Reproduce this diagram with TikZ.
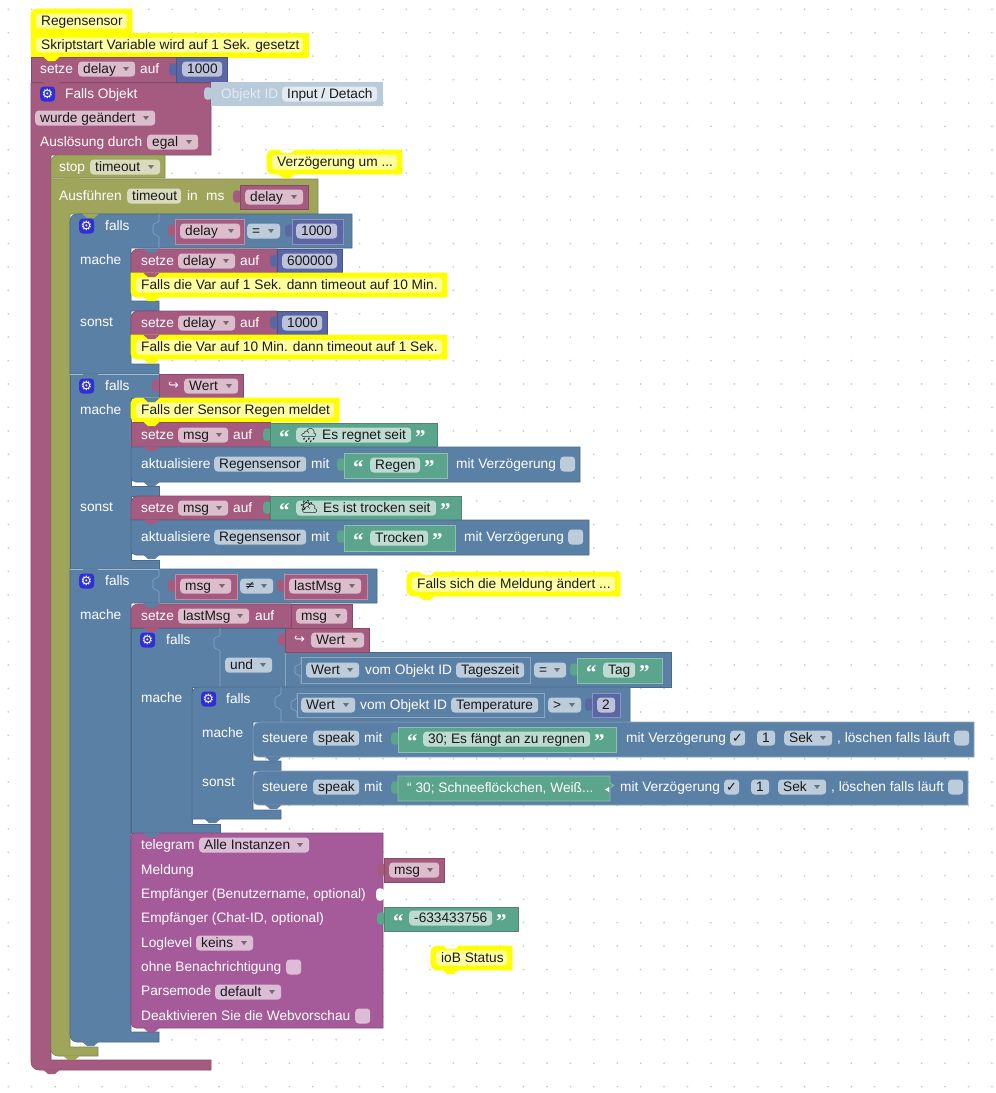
\documentclass[tikz,border=0pt]{standalone}
\usepackage{fontspec}
\setmainfont{Liberation Sans}
\newfontfamily\qfont{Liberation Serif}
\newfontfamily\dvfont{DejaVu Sans}
\newfontfamily\emofont{Noto Emoji}
\definecolor{mar}{HTML}{A55B80}
\definecolor{marF}{HTML}{DBBDCC}
\definecolor{oli}{HTML}{9FA65C}
\definecolor{oliF}{HTML}{D8DBBD}
\definecolor{blu}{HTML}{5B80A5}
\definecolor{bluF}{HTML}{BDCCDB}
\definecolor{mat}{HTML}{5B67A5}
\definecolor{matF}{HTML}{BDC2DB}
\definecolor{grn}{HTML}{5BA58C}
\definecolor{grnF}{HTML}{BDDBD1}
\definecolor{pur}{HTML}{A55B99}
\definecolor{purF}{HTML}{DBBDD6}
\definecolor{yel}{HTML}{FFFF00}
\definecolor{yelF}{HTML}{FFFFA0}
\definecolor{sha}{HTML}{B9CADB}
\definecolor{shaF}{HTML}{E3EAF1}
\definecolor{gearc}{HTML}{2F2FD6}
\tikzset{
  x=1bp, y=-1bp,
  blk/.style={fill=#1, draw=#1!82!black, line width=.6bp},
  inr/.style={fill=#1, draw=#1!70!white, line width=.6bp},
  cmt/.style={fill=yel, draw=yel, line width=.6bp},
  lbl/.style={anchor=west, inner sep=0pt, text=white, font=\fontsize{13.75}{15}\selectfont, text height=11bp, text depth=1.5bp},
  ftxt/.style={lbl, text=black!90},
  fld/.style={anchor=west, inner sep=0pt, rounded corners=3.5bp, minimum height=15bp},
  qt/.style={anchor=west, inner sep=0pt, text=white, font=\qfont\bfseries\fontsize{21}{21}\selectfont},
  hole/.style={draw=white!30!blu, line width=.6bp, rounded corners=1.5bp},
}
\newcommand{\fl}[6]{\node[fld, fill=#5, minimum width={(#3-#2)*1bp}] (#1) at (#2,#4) {};
  \node[ftxt] (#1t) at (#2+5,#4) {#6};}
\newcommand{\dd}[6]{\fl{#1}{#2}{#3}{#4}{#5}{#6}
  \fill[#5!55!black] (#3-12,#4-2) -- (#3-6,#4-2) -- (#3-9,#4+2) -- cycle;}
\newcommand{\cb}[4]{\node[fld, fill=#4, minimum width=15bp] (#1) at (#2,#3) {};}
\newcommand{\tb}[3]{\fill[#3, rounded corners=1.5bp] (#1+1,#2+6) -- (#1-5,#2+5) -- (#1-7,#2+8) -- (#1-7,#2+15) -- (#1-5,#2+18) -- (#1+1,#2+17) -- cycle;}
\newcommand{\nb}[3]{\fill[#3] (#1+12,#2-.5) -- (#1+17,#2+4) -- (#1+24,#2+4) -- (#1+29,#2-.5) -- cycle;}
\newcommand{\gear}[3]{\node[fld, fill=gearc, minimum width=15bp, minimum height=15bp] (#1) at (#2,#3) {};
  \node[text=white, inner sep=0pt, font=\dvfont\fontsize{13}{13}\selectfont] (#1t) at (#2+7.5,#3) {⚙};}
\begin{document}
\begin{tikzpicture}
\useasboundingbox (0,0) rectangle (996,1093);
\fill[white] (0,0) rectangle (996,1093);
\foreach \i in {0,...,42}
\foreach \j in {0,...,46}
\fill[black!20] (8.3+\i*23.42,9.3+\j*23.42) circle (1);

\draw[cmt] (31,33) [rounded corners=6bp] -- (31,9) [sharp corners] -- (132,9) -- (132,33) -- cycle;
\draw[cmt] (31,33) rectangle (308,57);
\fl{fRegen}{36}{127}{21}{yelF}{Regensensor}
\fl{fStart}{36}{303}{45}{yelF}{Skriptstart Variable wird auf 1 Sek. gesetzt}

\draw[blk=mar] (31,57) rectangle (176,82);
\nb{31}{57}{yel}
\tb{176}{58}{mat}
\draw[blk=mat] (176,57) rectangle (227,82);
\node[lbl] (setzeA) at (40,69) {setze};
\dd{fDelayA}{78}{135}{69}{marF}{delay}
\node[lbl] (aufA) at (140,69) {auf};
\fl{fMsA}{182}{222}{69}{matF}{1000}

\draw[blk=mar] (31,83) -- (211,83) -- (211,155) -- (51,155) -- (51,1060) -- (211,1060) -- (211,1070) [rounded corners=8bp] -- (31,1070) [sharp corners] -- (31,83) -- cycle;
\nb{31}{1070}{mar}
\nb{31}{82.5}{mar}
\tb{211}{82}{sha}
\fill[sha] (211,82) rectangle (383,106);
\gear{gObj}{40}{94}
\node[lbl] (fallsObj) at (65,94) {Falls Objekt};
\node[lbl, text=shaF] (objId) at (221,94) {Objekt ID};
\fl{fInput}{282}{377}{94}{shaF}{Input / Detach}
\dd{fGeaen}{35}{155}{118}{marF}{wurde geändert}
\node[lbl] (ausl) at (40,142) {Auslösung durch};
\dd{fEgal}{147}{198}{142}{marF}{egal}

\draw[blk=oli] (51,178) [rounded corners=7bp] -- (51,155) [sharp corners] -- (165,155) -- (165,178) -- cycle;
\node[lbl] (stopL) at (59,167) {stop};
\dd{fStop}{90}{160}{167}{oliF}{timeout}
\draw[blk=oli] (51,179) -- (318,179) -- (318,214) -- (70,214) -- (70,1047) -- (98,1047) -- (98,1056) [rounded corners=7bp] -- (51,1056) [sharp corners] -- (51,179) -- cycle;
\nb{51}{178.5}{oli}
\nb{51}{1056}{oli}
\node[lbl] (ausf) at (59,196) {Ausführen};
\fl{fTimeout}{127}{181}{196}{oliF}{timeout}
\node[lbl] (inL) at (187,196) {in};
\node[lbl] (msL) at (206,196) {ms};
\tb{240}{185}{mar}
\draw[blk=mar] (240,185) rectangle (308,209);
\dd{fDelayB}{245}{303}{197}{marF}{delay}

\draw[cmt] (402,150) [rounded corners=6bp] -- (267,150) -- (267,174) [sharp corners] -- (402,174) -- cycle;
\fill[white] (279,149.5) -- (283,153) -- (291,153) -- (295,149.5) -- cycle;
\nb{266}{174}{yel}
\fl{fVerz}{272}{397}{162}{yelF}{Verzögerung um ...}

\draw[blk=blu] (70,374) [rounded corners=7bp] -- (70,214) [sharp corners] -- (352,214) -- (352,248) -- (159,248) -- (131,248) -- (131,301) -- (159,301) -- (159,311) -- (131,311) -- (131,364) -- (159,364) -- (159,374) -- cycle;
\nb{70}{214}{oli}
\draw[hole] (159,214) -- (159,222) -- (153,224) -- (153,234) -- (159,236) -- (159,248);
\gear{gFallsA}{79}{226}
\node[lbl] (fallsA) at (105,226) {falls};
\tb{175}{219}{mar}
\draw[inr=mar] (175,219) rectangle (244,244);
\dd{fDelayC}{180}{240}{231}{marF}{delay}
\dd{fEq}{247}{280}{231}{bluF}{=}
\tb{292}{219}{mat}
\draw[inr=mat] (292,219) rectangle (343,244);
\fl{fMsB}{296}{337}{231}{matF}{1000}
\node[lbl] (macheA) at (80,260) {mache};
\node[lbl] (sonstA) at (80,322) {sonst};

\draw[blk=mar] (131,273) [rounded corners=7bp] -- (131,249) [sharp corners] -- (277,249) -- (277,273) -- cycle;
\nb{131}{249}{blu}
\tb{277}{249}{mat}
\draw[blk=mat] (277,249) rectangle (342,273);
\node[lbl] (setzeB) at (141,261) {setze};
\dd{fDelayD}{178}{235}{261}{marF}{delay}
\node[lbl] (aufB) at (240,261) {auf};
\fl{fMsC}{282}{337}{261}{matF}{600000}
\draw[cmt] (131,273) [rounded corners=5bp] -- (131,297) [sharp corners] -- (447,297) -- (447,273) -- cycle;
\nb{131}{273}{mar}
\nb{131}{297}{yel}
\fl{fVarA}{136}{442}{285}{yelF}{Falls die Var auf 1 Sek. dann timeout auf 10 Min.}

\draw[blk=mar] (131,335) [rounded corners=7bp] -- (131,311) [sharp corners] -- (277,311) -- (277,335) -- cycle;
\tb{277}{311}{mat}
\draw[blk=mat] (277,311) rectangle (327,335);
\node[lbl] (setzeC) at (141,323) {setze};
\dd{fDelayE}{178}{235}{323}{marF}{delay}
\node[lbl] (aufC) at (240,323) {auf};
\fl{fMsD}{282}{322}{323}{matF}{1000}
\draw[cmt] (131,335) [rounded corners=5bp] -- (131,359) [sharp corners] -- (447,359) -- (447,335) -- cycle;
\nb{131}{335}{mar}
\nb{131}{359}{yel}
\fl{fVarB}{136}{442}{347}{yelF}{Falls die Var auf 10 Min. dann timeout auf 1 Sek.}

\draw[blk=blu] (70,374) -- (159,374) -- (159,398) -- (131,398) -- (131,486) -- (159,486) -- (159,496) -- (131,496) -- (131,560) -- (159,560) -- (159,569) -- (70,569) -- cycle;
\draw[white!45!blu, line width=.7bp] (70,374) -- (159,374);
\nb{70}{374}{blu}
\gear{gFallsB}{79}{386}
\node[lbl] (fallsB) at (105,386) {falls};
\tb{159}{374}{mar}
\draw[blk=mar] (159,374) rectangle (243,398);
\node[lbl, font=\dvfont\fontsize{13}{14}\selectfont] (arrA) at (168,385) {↪};
\dd{fWertA}{184}{238}{386}{marF}{Wert}
\node[lbl] (macheB) at (80,410) {mache};
\node[lbl] (sonstB) at (80,507) {sonst};

\draw[cmt] (339,398) [rounded corners=5bp] -- (131,398) -- (131,422) [sharp corners] -- (339,422) -- cycle;
\fl{fSens}{136}{334}{410}{yelF}{Falls der Sensor Regen meldet}
\nb{131}{398}{blu}
\draw[blk=mar] (131,422) rectangle (270,447);
\nb{131}{422}{yel}
\tb{270}{423}{grn}
\draw[blk=grn] (270,423) rectangle (437,447);
\node[lbl] (setzeD) at (141,435) {setze};
\dd{fMsgA}{178}{228}{435}{marF}{msg}
\node[lbl] (aufD) at (233,435) {auf};
\node[qt] (qA) at (279,438) {“};
\fl{fRegnet}{296}{411}{435}{grnF}{\hspace*{21bp}Es regnet seit}
\node[inner sep=0pt, font=\emofont\fontsize{14}{14}\selectfont] (iconA) at (309,436) {🌧};
\node[qt] (qB) at (415,438) {”};

\draw[blk=blu] (131,447) -- (580,447) -- (580,482) [rounded corners=5bp] -- (131,482) [sharp corners] -- cycle;
\nb{131}{447}{mar}
\nb{131}{482}{blu}
\node[lbl] (aktA) at (141,464) {aktualisiere};
\fl{fSensA}{214}{306}{464}{bluF}{Regensensor}
\node[lbl] (mitA) at (311,464) {mit};
\tb{344}{453}{grn}
\draw[inr=grn] (344,453) rectangle (447,478);
\node[qt] (qC) at (353,468) {“};
\fl{fRegenW}{370}{420}{465}{grnF}{Regen}
\node[qt] (qD) at (424,468) {”};
\node[lbl] (verzA) at (456,464) {mit Verzögerung};
\cb{cbA}{560}{464}{bluF}

\draw[blk=mar] (131,520) [rounded corners=7bp] -- (131,496) [sharp corners] -- (270,496) -- (270,520) -- cycle;
\tb{270}{496}{grn}
\draw[blk=grn] (270,496) rectangle (461,520);
\node[lbl] (setzeE) at (141,508) {setze};
\dd{fMsgB}{178}{228}{508}{marF}{msg}
\node[lbl] (aufE) at (233,508) {auf};
\node[qt] (qE) at (279,511) {“};
\fl{fTrocken}{296}{436}{508}{grnF}{\hspace*{22bp}Es ist trocken seit}
\node[inner sep=0pt, font=\emofont\fontsize{14}{14}\selectfont] (iconB) at (309,507) {⛅};
\node[qt] (qF) at (440,511) {”};

\draw[blk=blu] (131,520) -- (589,520) -- (589,555) [rounded corners=5bp] -- (131,555) [sharp corners] -- cycle;
\nb{131}{520}{mar}
\nb{131}{555}{blu}
\node[lbl] (aktB) at (141,537) {aktualisiere};
\fl{fSensB}{214}{306}{537}{bluF}{Regensensor}
\node[lbl] (mitB) at (311,537) {mit};
\tb{344}{525}{grn}
\draw[inr=grn] (344,525) rectangle (455,551);
\node[qt] (qG) at (353,541) {“};
\fl{fTrockW}{370}{428}{538}{grnF}{Trocken}
\node[qt] (qH) at (432,541) {”};
\node[lbl] (verzB) at (464,537) {mit Verzögerung};
\cb{cbB}{568}{537}{bluF}

\draw[blk=blu] (70,569) -- (377,569) -- (377,603) -- (131,603) -- (131,1032) -- (159,1032) -- (159,1042) [rounded corners=7bp] -- (70,1042) [sharp corners] -- cycle;
\draw[white!45!blu, line width=.7bp] (70,569) -- (159,569);
\nb{70}{569}{blu}
\nb{70}{1042}{blu}
\draw[hole] (159,569) -- (159,577) -- (153,579) -- (153,589) -- (159,591) -- (159,603);
\gear{gFallsC}{79}{581}
\node[lbl] (fallsC) at (105,581) {falls};
\tb{175}{574}{mar}
\draw[inr=mar] (175,574) rectangle (237,599);
\dd{fMsgC}{180}{231}{586}{marF}{msg}
\fl{fNe}{240}{273}{586}{bluF}{}
\node[lbl, text=black!90, font=\dvfont\fontsize{12}{14}\selectfont] (neL) at (245,585) {≠};
\fill[bluF!55!black] (261,584) -- (267,584) -- (264,588) -- cycle;
\tb{284}{574}{mar}
\draw[inr=mar] (284,574) rectangle (367,599);
\dd{fLastA}{289}{361}{586}{marF}{lastMsg}
\node[lbl] (macheC) at (80,615) {mache};

\draw[cmt] (620,572) [rounded corners=6bp] -- (407,572) -- (407,596) [sharp corners] -- (620,596) -- cycle;
\fill[white] (419,571.5) -- (423,575) -- (431,575) -- (435,571.5) -- cycle;
\nb{406}{596}{yel}
\fl{fMeld}{412}{615}{584}{yelF}{Falls sich die Meldung ändert ...}

\draw[blk=mar] (131,628) [rounded corners=7bp] -- (131,604) [sharp corners] -- (291,604) -- (291,628) -- cycle;
\nb{131}{603.5}{blu}
\tb{291}{604}{mar}
\draw[blk=mar] (291,604) rectangle (352,628);
\node[lbl] (setzeF) at (141,616) {setze};
\dd{fLastB}{178}{249}{616}{marF}{lastMsg}
\node[lbl] (aufF) at (255,616) {auf};
\dd{fMsgD}{296}{347}{616}{marF}{msg}

\draw[blk=blu] (131,628) -- (285,628) -- (285,652) -- (671,652) -- (671,687) -- (192,687) -- (192,824) -- (220,824) -- (220,833) -- (131,833) -- cycle;
\nb{131}{628}{mar}
\draw[hole] (220,628) -- (220,636) -- (214,638) -- (214,648) -- (220,650) -- (220,687);
\draw[hole] (285,652) -- (285,687);
\gear{gFallsD}{140}{640}
\node[lbl] (fallsD) at (166,640) {falls};
\tb{285}{628}{mar}
\draw[blk=mar] (285,628) rectangle (369,652);
\node[lbl, font=\dvfont\fontsize{13}{14}\selectfont] (arrB) at (294,639) {↪};
\dd{fWertB}{311}{364}{640}{marF}{Wert}
\dd{fUnd}{225}{272}{665}{bluF}{und}
\draw[hole] (301,657) -- (301,664) -- (295,666) -- (295,674) -- (301,676) -- (301,683);
\draw[inr=blu] (301,657) rectangle (530,683);
\dd{fWertC}{306}{359}{670}{bluF}{Wert}
\node[lbl] (vomA) at (365,670) {vom Objekt ID};
\fl{fTages}{456}{524}{670}{bluF}{Tageszeit}
\dd{fEqB}{534}{566}{670}{bluF}{=}
\tb{577}{658}{grn}
\draw[inr=grn] (577,658) rectangle (662,683);
\node[qt] (qI) at (586,673) {“};
\fl{fTag}{603}{635}{670}{grnF}{Tag}
\node[qt] (qJ) at (639,673) {”};
\node[lbl] (macheD) at (141,698) {mache};

\draw[blk=blu] (192,819) [rounded corners=7bp] -- (192,687) [sharp corners] -- (630,687) -- (630,722) -- (253,722) -- (253,761) -- (281,761) -- (281,771) -- (253,771) -- (253,810) -- (281,810) -- (281,819) -- cycle;
\nb{192}{819}{blu}
\draw[hole] (281,687) -- (281,695) -- (275,697) -- (275,707) -- (281,709) -- (281,722);
\gear{gFallsE}{201}{699}
\node[lbl] (fallsE) at (226,699) {falls};
\draw[hole] (297,693) -- (297,699) -- (291,701) -- (291,709) -- (297,711) -- (297,717);
\draw[inr=blu] (297,693) rectangle (544,717);
\dd{fWertD}{301}{355}{705}{bluF}{Wert}
\node[lbl] (vomB) at (360,705) {vom Objekt ID};
\fl{fTemp}{451}{538}{705}{bluF}{Temperature}
\dd{fGt}{548}{581}{705}{bluF}{>}
\tb{592}{693}{mat}
\draw[inr=mat] (592,693) rectangle (620,717);
\fl{fZwei}{597}{615}{705}{matF}{2}
\node[lbl] (macheE) at (202,733) {mache};
\node[lbl] (sonstE) at (202,782) {sonst};

\draw[inr=blu] (253,740) [rounded corners=7bp] -- (253,722) [sharp corners] -- (974,722) -- (974,757) [rounded corners=5bp] -- (253,757) [sharp corners] -- cycle;
\nb{253}{757}{blu}
\node[lbl] (steuA) at (262,738) {steuere};
\fl{fSpeakA}{313}{359}{738}{bluF}{speak}
\node[lbl] (mitC) at (364,738) {mit};
\tb{398}{727}{grn}
\draw[inr=grn] (398,727) rectangle (616,752);
\node[qt] (qK) at (407,742) {“};
\fl{fTextA}{423}{590}{739}{grnF}{30; Es fängt an zu regnen}
\node[qt] (qL) at (594,742) {”};
\node[lbl] (verzC) at (626,738) {mit Verzögerung};
\cb{cbC}{730}{738}{bluF}
\node[text=black!90, inner sep=0pt, font=\dvfont\fontsize{13}{13}\selectfont] (tickA) at (737.5,738) {✓};
\fl{fEinsA}{757}{775}{738}{bluF}{1}
\dd{fSekA}{784}{832}{738}{bluF}{Sek}
\node[lbl] (loeA) at (837,738) {, löschen falls läuft};
\cb{cbD}{954}{738}{bluF}

\draw[inr=blu] (253,790) [rounded corners=7bp] -- (253,771) [sharp corners] -- (968,771) -- (968,805) [rounded corners=5bp] -- (253,805) [sharp corners] -- cycle;
\nb{253}{805}{blu}
\node[lbl] (steuB) at (262,787) {steuere};
\fl{fSpeakB}{313}{359}{787}{bluF}{speak}
\node[lbl] (mitD) at (364,787) {mit};
\tb{398}{776}{grn}
\draw[inr=grn] (398,776) -- (610,776) -- (610,783) -- (614,785.5) -- (610,788) -- (610,801) -- (398,801) -- cycle;
\fill[white] (609,787) -- (605,789.5) -- (609,792) -- cycle;
\node[lbl] (qText) at (407,788) {“ 30; Schneeflöckchen, Weiß...};
\node[lbl] (verzD) at (620,787) {mit Verzögerung};
\cb{cbE}{724}{787}{bluF}
\node[text=black!90, inner sep=0pt, font=\dvfont\fontsize{13}{13}\selectfont] (tickB) at (731.5,787) {✓};
\fl{fEinsB}{751}{769}{787}{bluF}{1}
\dd{fSekB}{778}{826}{787}{bluF}{Sek}
\node[lbl] (loeB) at (831,787) {, löschen falls läuft};
\cb{cbF}{948}{787}{bluF}

\draw[blk=pur] (131,900) [rounded corners=4bp] -- (131,833) [sharp corners] -- (383,833) -- (383,1028) [rounded corners=5bp] -- (131,1028) [sharp corners] -- cycle;
\nb{131}{833}{blu}
\nb{131}{1028}{pur}
\fill[white, rounded corners=1.5bp] (384,889) -- (378,888) -- (376,891) -- (376,898) -- (378,901) -- (384,900) -- cycle;
\node[lbl] (tele) at (141,845) {telegram};
\dd{fInst}{199}{309}{845}{purF}{Alle Instanzen}
\node[lbl] (meld) at (141,870) {Meldung};
\node[lbl] (empfA) at (141,894) {Empfänger (Benutzername, optional)};
\node[lbl] (empfB) at (141,918) {Empfänger (Chat-ID, optional)};
\node[lbl] (logl) at (141,943) {Loglevel};
\dd{fKeins}{196}{253}{943}{purF}{keins}
\node[lbl] (ohne) at (141,967) {ohne Benachrichtigung};
\cb{cbG}{286}{967}{purF}
\node[lbl] (parse) at (141,991) {Parsemode};
\dd{fDefault}{215}{281}{992}{purF}{default}
\node[lbl] (deakt) at (141,1016) {Deaktivieren Sie die Webvorschau};
\cb{cbH}{355}{1016}{purF}

\tb{384}{858}{mar}
\draw[blk=mar] (384,858) rectangle (444,882);
\dd{fMsgE}{389}{439}{870}{marF}{msg}
\tb{384}{907}{grn}
\draw[blk=grn] (384,907) rectangle (518,931);
\node[qt] (qM) at (393,922) {“};
\fl{fChat}{409}{492}{918}{grnF}{-633433756}
\node[qt] (qN) at (496,922) {”};

\draw[cmt] (512,946) [rounded corners=6bp] -- (431,946) -- (431,970) [sharp corners] -- (512,970) -- cycle;
\fill[white] (443,945.5) -- (447,949) -- (455,949) -- (459,945.5) -- cycle;
\nb{430}{970}{yel}
\fl{fIob}{436}{507}{958}{yelF}{ioB Status}
\end{tikzpicture}
\end{document}
